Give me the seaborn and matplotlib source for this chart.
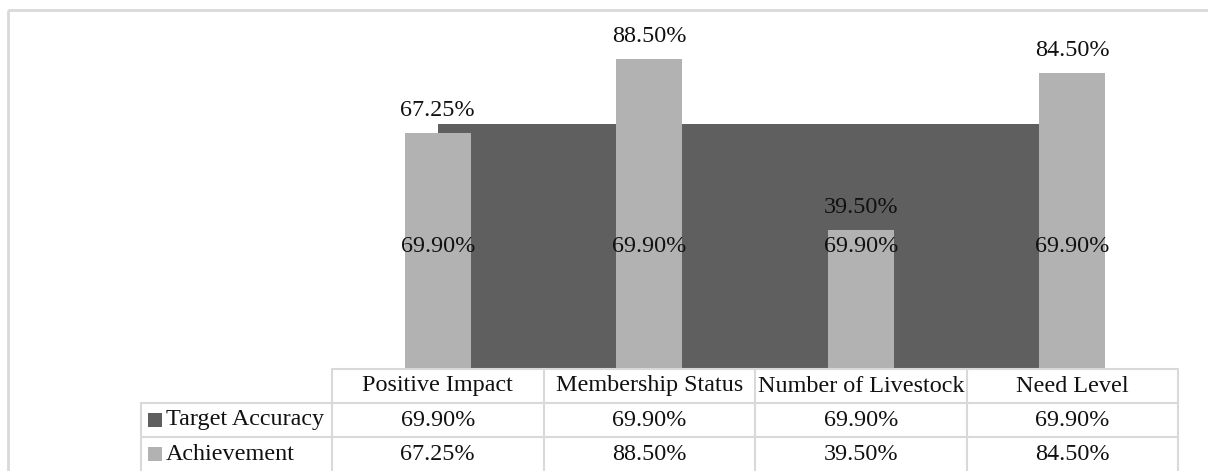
import numpy as np
import pandas as pd
import seaborn as sns
import matplotlib
matplotlib.use("Agg")
import matplotlib.pyplot as plt
from matplotlib.lines import Line2D
from matplotlib.patches import Rectangle
from matplotlib import transforms

# ---- data -------------------------------------------------------------
categories = ["Positive Impact", "Membership Status", "Number of Livestock", "Need Level"]
target_accuracy = [69.90, 69.90, 69.90, 69.90]
achievement = [67.25, 88.50, 39.50, 84.50]
series_names = ["Target Accuracy", "Achievement"]

DARK = "#5f5f5f"
LIGHT = "#b2b2b2"
GRID = "#d9d9d9"
TEXT = "#111111"
FONT = "Liberation Serif"
FS = 17.4

sns.set_theme(style="white")
plt.rcParams["font.family"] = [FONT, "DejaVu Serif"]

W, H = 1208, 471
fig = plt.figure(figsize=(W / 100, H / 100), dpi=100)
fig.patch.set_facecolor("white")

# pixel-space transform (origin top-left)
pix = transforms.Affine2D().scale(1 / W, -1 / H).translate(0, 1) + fig.transFigure

# plot area aligned with the data-table columns
left, right, top, bottom = 332, 1178, 19, 368
ax = fig.add_axes([left / W, 1 - bottom / H, (right - left) / W, (bottom - top) / H])

df = pd.DataFrame({"Category": categories,
                   "Target": target_accuracy,
                   "Achievement": achievement})

xpos = np.arange(len(categories))
# target shown as an area spanning the category centres
ax.fill_between(xpos, 0, df["Target"], color=DARK, linewidth=0, zorder=1)
sns.barplot(data=df, x="Category", y="Achievement", color=LIGHT,
            saturation=1, width=0.31, linewidth=0, ax=ax, zorder=2)

for i, (t, a) in enumerate(zip(df["Target"], df["Achievement"])):
    ax.text(i, t / 2, f"{t:.2f}%", ha="center", va="center",
            fontsize=FS, color=TEXT, zorder=3)
    ax.annotate(f"{a:.2f}%", (i, a), xytext=(0, 16.5), textcoords="offset points",
                ha="center", va="center", fontsize=FS, color=TEXT, zorder=3)

ax.set_xlim(-0.5, len(categories) - 0.5)
ax.set_ylim(0, 100)
ax.set_xlabel("")
ax.set_ylabel("")
ax.set_xticks([])
ax.set_yticks([])
for s in ax.spines.values():
    s.set_visible(False)
ax.patch.set_alpha(0)

# ---- outer chart frame --------------------------------------------------
fig.add_artist(Rectangle((8, 10), W, H, transform=pix, fill=False,
                         edgecolor=GRID, linewidth=2))

# ---- data table ----------------------------------------------------------
col_edges = [332 + k * (right - left) / len(categories) for k in range(len(categories) + 1)]
row_edges = [369, 403, 437, 471]
head_left = 141

def hline(x0, x1, y):
    fig.add_artist(Line2D([x0, x1], [y, y], transform=pix, color=GRID, linewidth=1.5))

def vline(x, y0, y1):
    fig.add_artist(Line2D([x, x], [y0, y1], transform=pix, color=GRID, linewidth=1.5))

hline(col_edges[0], col_edges[-1], row_edges[0])
hline(head_left, col_edges[-1], row_edges[1])
hline(head_left, col_edges[-1], row_edges[2])
vline(head_left, row_edges[1], H + 5)
for x in col_edges:
    vline(x, row_edges[0], H + 5)

def row_mid(r):
    return (row_edges[r] + row_edges[r + 1]) / 2

for j, cat in enumerate(categories):
    cx = (col_edges[j] + col_edges[j + 1]) / 2
    fig.text(cx / W, 1 - row_mid(0) / H, cat, ha="center", va="center",
             fontsize=FS, color=TEXT)
    fig.text(cx / W, 1 - row_mid(1) / H, f"{target_accuracy[j]:.2f}%", ha="center",
             va="center", fontsize=FS, color=TEXT)
    fig.text(cx / W, 1 - row_mid(2) / H, f"{achievement[j]:.2f}%", ha="center",
             va="center", fontsize=FS, color=TEXT)

for r, (name, col) in enumerate(zip(series_names, [DARK, LIGHT]), start=1):
    ym = row_mid(r)
    fig.add_artist(Rectangle((148, ym - 7), 14, 14, transform=pix,
                             facecolor=col, edgecolor="none"))
    fig.text(166 / W, 1 - ym / H, name, ha="left", va="center",
             fontsize=FS, color=TEXT)

fig.savefig("out.png", dpi=100, facecolor="white")
